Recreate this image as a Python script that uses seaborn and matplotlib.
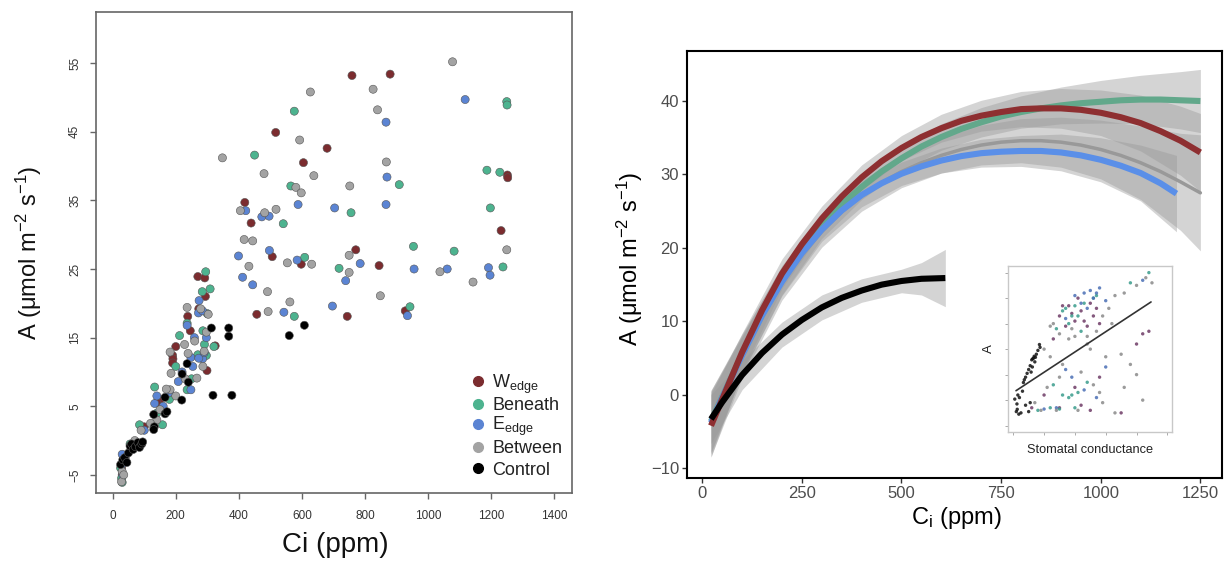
import numpy as np
import pandas as pd
import matplotlib
matplotlib.use("Agg")
import matplotlib.pyplot as plt
from matplotlib.lines import Line2D
import seaborn as sns

# ---------------- data: left panel scatter (Ci ppm, A) ----------------
wedge_ci = [759, 880, 517, 680, 605, 419, 439, 771, 506, 598, 845, 270, 292, 294, 238, 457, 744,
            1252, 1253, 1232, 928, 273, 246, 200, 190, 191, 190, 299, 325, 150, 100, 28, 30, 140, 60, 35]
wedge_a = [53.2, 53.4, 44.9, 42.6, 40.5, 34.7, 31.7, 27.8, 26.8, 25.7, 25.5, 23.9, 23.7, 21.0, 18.1, 18.4, 18.1,
           38.7, 38.3, 30.6, 18.9, 19.2, 16.0, 13.7, 12.4, 11.9, 11.3, 10.2, 13.8, 6.0, 2.0, -4.0, -5.0, 5.5, -1.0, -3.0]

beneath_ci = [576, 450, 565, 756, 541, 609, 718, 295, 309, 284, 576, 1250, 1251, 1187, 1228, 909, 1198, 954,
              1083, 1238, 943, 212, 236, 236, 291, 297, 321, 286, 133, 158, 85, 55, 30, 28, 25, 140, 180, 200,
              250, 270, 300]
beneath_a = [48.0, 41.6, 37.1, 33.2, 31.6, 26.7, 25.1, 24.6, 22.1, 21.7, 18.1, 49.4, 48.9, 39.4, 39.1, 37.3, 33.9,
             28.3, 27.6, 25.3, 19.5, 15.3, 17.1, 7.4, 14.0, 12.4, 13.7, 16.0, 7.8, 2.3, 2.3, -0.5, -6.1, -5.5, -4.0,
             4.0, 6.0, 10.8, 9.0, 12.5, 18.5]

eedge_ci = [867, 870, 867, 704, 588, 422, 473, 496, 497, 399, 585, 785, 412, 739, 444, 274, 697, 543, 272,
            1118, 956, 1061, 1192, 1197, 935, 236, 248, 254, 259, 285, 297, 285, 248, 208, 273, 133, 30, 28, 32,
            140, 160, 100, 180, 220, 290]
eedge_a = [46.4, 38.4, 34.4, 33.9, 34.4, 33.5, 32.6, 32.7, 27.7, 26.9, 26.3, 25.8, 23.8, 23.3, 22.7, 20.4, 19.6,
           18.7, 18.6, 49.7, 25.0, 25.0, 25.2, 24.1, 18.2, 16.8, 7.4, 10.8, 15.0, 18.9, 15.0, 11.9, 12.1, 8.6, 12.0,
           5.4, -2.0, -3.5, -5.0, 6.5, 5.0, 1.5, 7.0, 10.0, 12.8]

between_ci = [627, 826, 840, 348, 593, 868, 480, 638, 752, 581, 598, 405, 482, 518, 417, 444, 750, 554, 631,
              432, 750, 491, 562, 849, 236, 493, 1078, 1250, 1038, 1143, 279, 303, 297, 228, 239, 182, 185, 182,
              230, 267, 286, 290, 150, 140, 120, 90, 70, 40, 30, 28, 35, 200, 260, 170]
between_a = [50.8, 51.2, 48.2, 41.2, 43.8, 40.6, 38.9, 38.6, 37.1, 36.9, 36.1, 33.5, 33.2, 33.7, 29.3, 29.1,
             27.0, 25.9, 25.7, 25.4, 24.5, 21.7, 20.2, 21.1, 19.4, 18.8, 55.2, 27.8, 24.6, 23.1, 19.2, 18.4, 15.8,
             14.0, 12.7, 12.9, 9.8, 7.4, 9.0, 9.1, 10.8, 13.0, 4.5, 3.0, 2.5, 1.5, 0.0, -2.5, -4.5, -6.0, -5.0,
             6.5, 14.5, 7.5]

control_ci = [25, 32, 38, 45, 50, 55, 60, 65, 72, 80, 85, 92, 95, 130, 132, 130, 166, 166, 172, 219, 220, 236,
              240, 313, 368, 368, 318, 378, 560, 608]
control_a = [-3.5, -2.8, -2.5, -3.2, -1.8, -0.8, -0.5, -1.3, -0.9, -0.3, -1.0, -0.5, -0.2, 3.8, 2.0, 1.6, 6.3,
             3.9, 4.2, 5.9, 9.7, 11.2, 8.5, 16.4, 16.4, 15.2, 6.6, 6.6, 15.3, 16.8]

groups = ["Wedge", "Beneath", "Eedge", "Between", "Control"]
legend_labels = [r"W$_{\rm edge}$", "Beneath", r"E$_{\rm edge}$", "Between", "Control"]

# ---------------- data: right panel fitted curves ----------------
line_ci = [22, 50, 100, 150, 200, 250, 300, 350, 400, 450, 500, 550, 600, 650, 700, 750, 800, 850, 900,
           950, 1000, 1050, 1100, 1150, 1200, 1250]
wedge_line = [-4.2, -0.6, 5.8, 11.5, 16.5, 20.5, 24.0, 27.0, 29.6, 31.8, 33.6, 35.1, 36.3, 37.3, 38.0, 38.5,
              38.9, 39.0, 39.0, 38.8, 38.4, 37.8, 37.0, 35.9, 34.6, 33.0]
beneath_line = [-3.6, -0.3, 5.5, 10.9, 15.6, 19.6, 23.0, 25.9, 28.3, 30.4, 32.2, 33.8, 35.1, 36.2, 37.1, 37.9,
                38.5, 39.0, 39.4, 39.7, 39.9, 40.1, 40.2, 40.2, 40.1, 40.0]
between_line = [-3.9, -0.5, 5.3, 10.6, 15.2, 19.0, 22.2, 24.9, 27.1, 28.9, 30.4, 31.6, 32.6, 33.4, 34.0, 34.4,
                34.6, 34.6, 34.4, 34.0, 33.4, 32.6, 31.6, 30.4, 29.0, 27.5]
eedge_line_ci = [22, 50, 100, 150, 200, 250, 300, 350, 400, 450, 500, 550, 600, 650, 700, 750, 800, 850, 900,
                 950, 1000, 1050, 1100, 1150, 1190]
eedge_line = [-3.8, -0.4, 5.4, 10.8, 15.4, 19.3, 22.5, 25.1, 27.2, 28.8, 30.1, 31.1, 31.9, 32.5, 32.9, 33.1,
              33.2, 33.2, 33.0, 32.6, 32.0, 31.2, 30.2, 28.8, 27.4]
control_line_ci = [22, 50, 100, 150, 200, 250, 300, 350, 400, 450, 500, 550, 610]
control_line = [-3.3, -1.0, 2.7, 5.7, 8.2, 10.2, 11.9, 13.2, 14.2, 15.0, 15.5, 15.8, 15.9]

band_ci = [22, 100, 200, 300, 400, 500, 600, 700, 800, 900, 1000, 1100, 1200, 1250]
wedge_lo = [-8.5, 3.2, 14.5, 22.3, 27.9, 31.9, 34.4, 35.9, 36.5, 36.3, 35.3, 33.2, 29.9, 27.7]
wedge_hi = [0.1, 8.4, 18.5, 25.7, 31.3, 35.3, 38.2, 40.1, 41.3, 41.7, 41.5, 40.8, 39.3, 38.3]
beneath_lo = [-7.8, 2.9, 13.6, 21.3, 26.6, 30.5, 33.3, 35.1, 36.3, 36.9, 37.0, 36.9, 36.2, 35.7]
beneath_hi = [0.6, 8.1, 17.6, 24.7, 30.0, 33.9, 36.9, 39.1, 40.7, 41.9, 42.8, 43.5, 44.0, 44.3]
between_lo = [-8.4, 2.3, 12.9, 20.1, 25.0, 28.2, 30.2, 31.3, 31.6, 31.0, 29.4, 26.6, 22.4, 19.6]
between_hi = [0.6, 8.3, 17.5, 24.3, 29.2, 32.6, 35.0, 36.7, 37.6, 37.8, 37.4, 36.6, 35.6, 35.4]
eedge_band_ci = [22, 100, 200, 300, 400, 500, 600, 700, 800, 900, 1000, 1100, 1190]
eedge_lo = [-8.0, 2.9, 13.5, 20.9, 25.6, 28.5, 30.2, 31.0, 31.1, 30.5, 29.0, 26.4, 22.2]
eedge_hi = [0.4, 7.9, 17.3, 24.1, 28.8, 31.7, 33.6, 34.8, 35.3, 35.5, 35.0, 34.0, 32.6]
control_band_ci = [22, 100, 200, 300, 400, 500, 550, 610]
control_lo = [-6.6, 0.7, 6.5, 10.2, 12.6, 13.9, 13.6, 12.0]
control_hi = [0.0, 4.7, 9.9, 13.6, 15.8, 17.1, 18.0, 19.8]

# ---------------- data: inset (stomatal conductance vs A) ----------------
ins_control_g = [0.005, 0.013, 0.010, 0.015, 0.020, 0.033, 0.040, 0.045, 0.050, 0.055, 0.060, 0.063, 0.066,
                 0.070, 0.075, 0.080, 0.087, 0.085, 0.040, 0.025, 0.050, 0.030, 0.055, 0.062, 0.068, 0.072,
                 0.058, 0.036, 0.012, 0.018]
ins_control_a = [0.4, -3.6, -4.5, 2.0, 1.0, 6.9, 9.0, 10.5, 12.0, 13.5, 15.8, 16.2, 16.5, 15.0, 18.0, 19.5,
                 20.7, 21.8, -2.0, -5.0, -4.5, 3.5, -1.0, 13.0, 17.2, 16.8, 11.0, 8.0, -1.5, -5.5]
ins_wedge_g = [0.15, 0.18, 0.20, 0.22, 0.24, 0.26, 0.28, 0.17, 0.21, 0.25, 0.40, 0.42, 0.44,
               0.06, 0.10, 0.15, 0.20, 0.25, 0.28, 0.22, 0.35, 0.19, 0.23, 0.27, 0.16, 0.13]
ins_wedge_a = [33, 37, 31, 35, 29, 33, 30, 29, 40, 38, 22, 26, 27, -3, 2, -3, 5, -4, 9, -2, -5,
               34, 31, 36, 37, 24]
ins_beneath_g = [0.14, 0.16, 0.19, 0.20, 0.23, 0.18, 0.22, 0.27, 0.38, 0.44,
                 0.08, 0.12, 0.16, 0.18, 0.20, 0.21, 0.24, 0.13, 0.17, 0.21, 0.19, 0.15, 0.26]
ins_beneath_a = [28, 35, 33, 37, 38, 30, 27, 41, 46, 50, -4, -3, 2, 1, -3, 3, 7, 6,
                 36, 33, 2, -3.5, 40]
ins_eedge_g = [0.20, 0.23, 0.25, 0.27, 0.24, 0.30, 0.17, 0.42, 0.10, 0.14, 0.19, 0.23, 0.27, 0.17, 0.30,
               0.26, 0.22, 0.28]
ins_eedge_a = [41, 42, 43, 42, 36, 39, 32, 47, -3.5, -3, 9, 4, 1, 12, 13, 40, 38, 44]
ins_between_g = [0.13, 0.15, 0.19, 0.24, 0.27, 0.29, 0.31, 0.33, 0.36, 0.40, 0.43, 0.45, 0.10, 0.12, 0.18,
                 0.25, 0.30, 0.07, 0.11, 0.15, 0.22, 0.26, 0.29, 0.33, 0.36, 0.40, 0.42, 0.38, 0.32, 0.35,
                 0.09, 0.14, 0.21, 0.28, 0.16, 0.24, 0.20, 0.12]
ins_between_a = [30, 26, 28, 25, 27, 33, 36, 41, 42, 45, 48, 46, 20, 17, 24, 20, 17, -1, 5, 9, 11, 6, -1, -5,
                 5, 10, 0, 14, 30, 18, -4, -4, -4, 3, 14, 22, 25, 29]
ins_line_g = [0.009, 0.447]
ins_line_a = [3.7, 38.5]

# ---------------- styling ----------------
sns.set_theme(style="white")
plt.rcParams["font.family"] = ["Liberation Sans", "DejaVu Sans"]
plt.rcParams["mathtext.fontset"] = "custom"
plt.rcParams["mathtext.rm"] = "Liberation Sans"
plt.rcParams["mathtext.it"] = "Liberation Sans:italic"
plt.rcParams["mathtext.bf"] = "Liberation Sans:bold"

left_pal = {"Wedge": "#7B2C2F", "Beneath": "#4DB38F", "Eedge": "#5B84D3",
            "Between": "#A3A3A3", "Control": "#000000"}
right_pal = {"Wedge": "#8E2F31", "Beneath": "#62A88B", "Eedge": "#5A8FE8",
             "Between": "#9A9A9A", "Control": "#000000"}
inset_pal = {"Wedge": "#6E3B66", "Beneath": "#3A9C8C", "Eedge": "#4A6FB5",
             "Between": "#8A8A8A", "Control": "#111111"}

W, H = 1227, 561
fig = plt.figure(figsize=(W / 100, H / 100), dpi=100)


def px_axes(x0, y0, x1, y1):
    return [x0 / W, 1 - y1 / H, (x1 - x0) / W, (y1 - y0) / H]


# ================= left panel =================
axL = fig.add_axes(px_axes(95.7, 11.7, 571.7, 492.7))
left_df = pd.concat([
    pd.DataFrame({"Ci": wedge_ci, "A": wedge_a, "grp": "Wedge"}),
    pd.DataFrame({"Ci": beneath_ci, "A": beneath_a, "grp": "Beneath"}),
    pd.DataFrame({"Ci": eedge_ci, "A": eedge_a, "grp": "Eedge"}),
    pd.DataFrame({"Ci": between_ci, "A": between_a, "grp": "Between"}),
    pd.DataFrame({"Ci": control_ci, "A": control_a, "grp": "Control"}),
], ignore_index=True)
sns.scatterplot(data=left_df, x="Ci", y="A", hue="grp", palette=left_pal, s=34,
                linewidth=0.4, edgecolor="#555555", legend=False, ax=axL, zorder=3)
axL.set_xlim(-54, 1456)
axL.set_ylim(-7.6, 62.5)
axL.set_xticks(np.arange(0, 1401, 200))
axL.set_yticks(np.arange(-5, 56, 10))
for sp in axL.spines.values():
    sp.set_color("#666666")
    sp.set_linewidth(1.2)
    sp.set_visible(True)
axL.tick_params(axis="both", which="major", direction="out", length=4.5, width=1,
                color="#666666", labelsize=8.5, labelcolor="#333333", bottom=True, left=True)
axL.tick_params(axis="x", pad=8)
axL.tick_params(axis="y", pad=6)
for lbl in axL.get_yticklabels():
    lbl.set_rotation(90)
    lbl.set_va("center")
axL.set_xlabel("Ci (ppm)", fontsize=20, color="#111111")
axL.xaxis.set_label_coords(0.503, -0.109)
axL.xaxis.label.set_va("center")
axL.set_ylabel("A (\u03bcmol m$^{-2}$ s$^{-1}$)", fontsize=17, color="#111111")
axL.yaxis.set_label_coords(-0.141, 0.499)
axL.yaxis.label.set_va("center")

# legend: one evenly spaced row per group
row_y = [0.226, 0.181, 0.137, 0.092, 0.047]
legs = []
for g, lab, yy in zip(groups, legend_labels, row_y):
    h = Line2D([0], [0], marker="o", linestyle="", markersize=7,
               markerfacecolor=left_pal[g], markeredgecolor=left_pal[g])
    leg = axL.legend([h], [lab], loc="center left", bbox_to_anchor=(0.784, yy),
                     frameon=False, fontsize=13, handlelength=1.0, handletextpad=0.3,
                     borderpad=0, borderaxespad=0, labelcolor="#222222")
    legs.append(leg)
for leg in legs[:-1]:
    axL.add_artist(leg)

# ================= right panel =================
axR = fig.add_axes(px_axes(686.7, 50.7, 1221.7, 478.3))
bands = [
    (band_ci, between_lo, between_hi),
    (band_ci, beneath_lo, beneath_hi),
    (eedge_band_ci, eedge_lo, eedge_hi),
    (band_ci, wedge_lo, wedge_hi),
    (control_band_ci, control_lo, control_hi),
]
lines = [
    ("Between", line_ci, between_line),
    ("Beneath", line_ci, beneath_line),
    ("Eedge", eedge_line_ci, eedge_line),
    ("Wedge", line_ci, wedge_line),
    ("Control", control_line_ci, control_line),
]
for xs, lo, hi in bands:
    axR.fill_between(xs, lo, hi, color="#999999", alpha=0.42, linewidth=0, zorder=2)
fit_df = pd.concat([pd.DataFrame({"Ci": xs, "A": ys, "grp": name})
                    for name, xs, ys in lines], ignore_index=True)
for name, xs, ys in lines:
    sub = fit_df[fit_df["grp"] == name]
    if name == "Between":
        sns.lineplot(data=sub, x="Ci", y="A", color=right_pal[name], linewidth=2.5,
                     sort=False, estimator=None, ax=axR, zorder=1.5, legend=False)
    else:
        sns.lineplot(data=sub, x="Ci", y="A", color=right_pal[name], linewidth=4.4,
                     sort=False, estimator=None, ax=axR, zorder=4, legend=False,
                     solid_capstyle="butt")
axR.set_xlim(-39, 1303.5)
axR.set_ylim(-11.36, 46.85)
axR.set_xticks([0, 250, 500, 750, 1000, 1250])
axR.set_yticks([-10, 0, 10, 20, 30, 40])
axR.set_yticklabels(["\u221210", "0", "10", "20", "30", "40"])
for sp in axR.spines.values():
    sp.set_color("black")
    sp.set_linewidth(1.5)
    sp.set_visible(True)
axR.tick_params(axis="both", direction="out", length=3.5, width=1, color="#333333",
                labelsize=12, labelcolor="#4D4D4D", pad=2, bottom=True, left=True)
axR.set_xlabel(r"C$_{\rm i}$ (ppm)", fontsize=17, color="black")
axR.xaxis.set_label_coords(0.503, -0.093)
axR.xaxis.label.set_va("center")
axR.set_ylabel("A (\u03bcmol m$^{-2}$ s$^{-1}$)", fontsize=17, color="black")
axR.yaxis.set_label_coords(-0.106, 0.513)
axR.yaxis.label.set_va("center")

# ================= inset =================
axI = fig.add_axes(px_axes(1008, 266, 1172, 432))
ins_df = pd.concat([
    pd.DataFrame({"g": ins_control_g, "A": ins_control_a, "grp": "Control"}),
    pd.DataFrame({"g": ins_wedge_g, "A": ins_wedge_a, "grp": "Wedge"}),
    pd.DataFrame({"g": ins_beneath_g, "A": ins_beneath_a, "grp": "Beneath"}),
    pd.DataFrame({"g": ins_eedge_g, "A": ins_eedge_a, "grp": "Eedge"}),
    pd.DataFrame({"g": ins_between_g, "A": ins_between_a, "grp": "Between"}),
], ignore_index=True)
sns.scatterplot(data=ins_df, x="g", y="A", hue="grp", palette=inset_pal, s=6, linewidth=0,
                alpha=0.85, legend=False, ax=axI, zorder=3)
sns.lineplot(x=ins_line_g, y=ins_line_a, color="#333333", linewidth=1.2, ax=axI, zorder=4)
axI.set_xlim(-0.017, 0.515)
axI.set_ylim(-12.5, 52.6)
axI.set_xticks(np.arange(0, 0.51, 0.1))
axI.set_yticks(np.arange(-10, 51, 10))
axI.set_xticklabels([])
axI.set_yticklabels([])
for sp in axI.spines.values():
    sp.set_color("#C8C8C8")
    sp.set_linewidth(1.0)
    sp.set_visible(True)
axI.tick_params(axis="both", direction="out", length=2.5, width=0.7, color="#AAAAAA",
                bottom=True, left=True)
axI.set_xlabel("Stomatal conductance", fontsize=9.2, color="#222222")
axI.xaxis.set_label_coords(0.503, -0.108)
axI.xaxis.label.set_va("center")
axI.set_ylabel("A", fontsize=9.5, color="#222222")
axI.yaxis.set_label_coords(-0.116, 0.5)
axI.yaxis.label.set_va("center")

fig.savefig("out.png", dpi=100)
